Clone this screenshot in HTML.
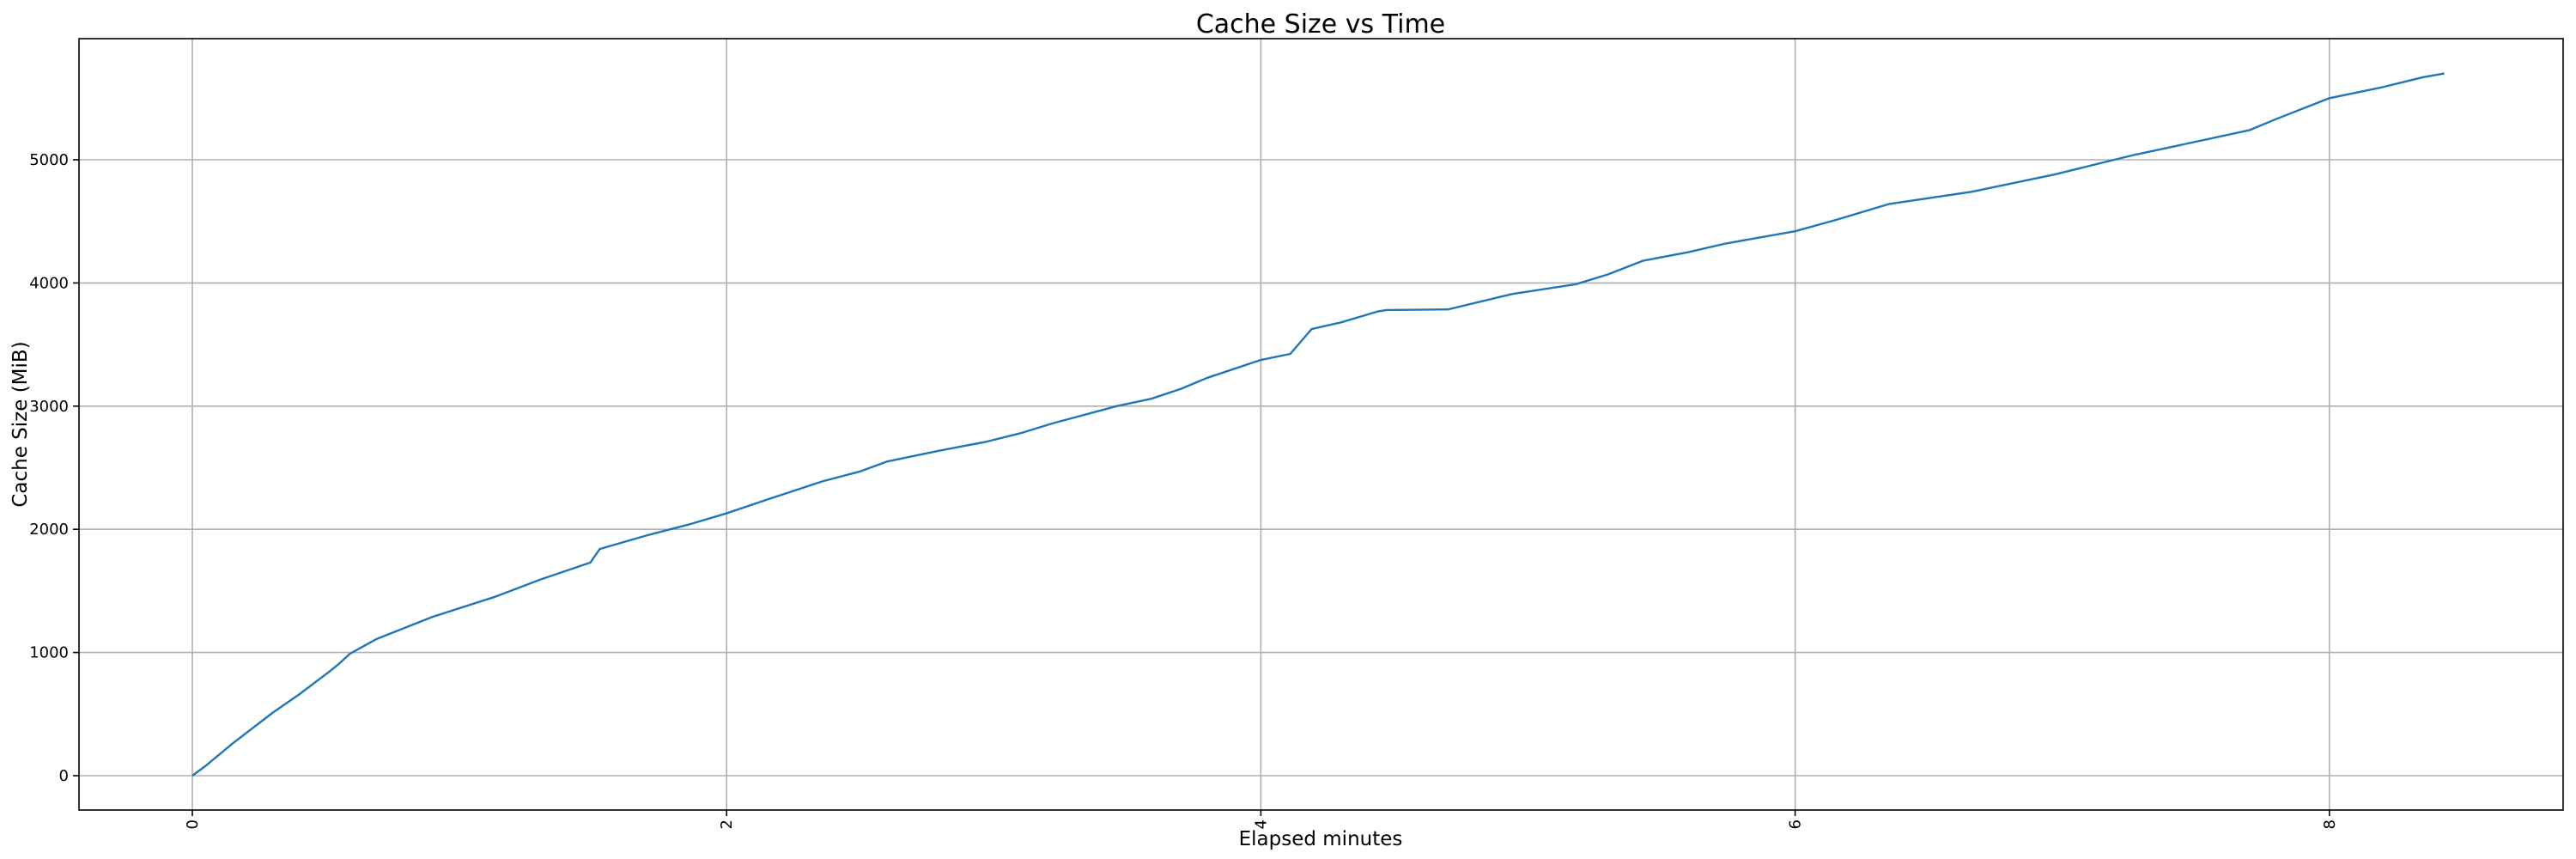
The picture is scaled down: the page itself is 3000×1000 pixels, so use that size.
<!DOCTYPE html>
<html><head><meta charset="utf-8"><style>
html,body{margin:0;padding:0;background:#fff;}
svg{display:block;font-family:"DejaVu Sans","Liberation Sans",sans-serif;}
</style></head><body>
<svg width="3000" height="1000" viewBox="0 0 3000 1000" xmlns="http://www.w3.org/2000/svg">
<rect width="3000" height="1000" fill="#fff"/>
<g stroke="#b0b0b0" stroke-width="1.6">
<line x1="224" y1="45" x2="224" y2="943"/>
<line x1="846.2" y1="45" x2="846.2" y2="943"/>
<line x1="1468.4" y1="45" x2="1468.4" y2="943"/>
<line x1="2090.6" y1="45" x2="2090.6" y2="943"/>
<line x1="2712.8" y1="45" x2="2712.8" y2="943"/>
<line x1="92" y1="903" x2="2985" y2="903"/>
<line x1="92" y1="759.6" x2="2985" y2="759.6"/>
<line x1="92" y1="616.2" x2="2985" y2="616.2"/>
<line x1="92" y1="472.8" x2="2985" y2="472.8"/>
<line x1="92" y1="329.4" x2="2985" y2="329.4"/>
<line x1="92" y1="186" x2="2985" y2="186"/>
</g>
<g transform="translate(224,903) scale(311.1,-0.1434)">
<polyline fill="none" stroke="#1f77b4" stroke-width="2.4" vector-effect="non-scaling-stroke" stroke-linejoin="round"
points="0,0 0.05,80 0.15,260 0.3,510 0.4,660 0.51,840 0.55,910 0.59,990 0.69,1110 0.9,1290 1.13,1450 1.3,1590 1.49,1730 1.525,1840 1.7,1950 1.86,2040 2.0,2130 2.15,2240 2.36,2390 2.5,2470 2.6,2550 2.8,2640 2.97,2710 3.1,2780 3.22,2860 3.46,3000 3.59,3060 3.7,3140 3.8,3230 4.0,3375 4.11,3424 4.19,3626 4.3,3680 4.44,3770 4.47,3780 4.70,3785 4.94,3910 5.18,3990 5.3,4070 5.43,4180 5.6,4250 5.74,4320 6.0,4420 6.15,4510 6.35,4640 6.66,4740 6.97,4880 7.27,5040 7.4,5100 7.7,5240 7.8,5330 8.0,5500 8.2,5590 8.35,5670 8.43,5700"/>
</g>
<rect x="92" y="45" width="2893" height="898" fill="none" stroke="#000" stroke-width="1.6"/>
<g stroke="#000" stroke-width="1.6">
<line x1="224" y1="943" x2="224" y2="950"/>
<line x1="846.2" y1="943" x2="846.2" y2="950"/>
<line x1="1468.4" y1="943" x2="1468.4" y2="950"/>
<line x1="2090.6" y1="943" x2="2090.6" y2="950"/>
<line x1="2712.8" y1="943" x2="2712.8" y2="950"/>
<line x1="85" y1="903" x2="92" y2="903"/>
<line x1="85" y1="759.6" x2="92" y2="759.6"/>
<line x1="85" y1="616.2" x2="92" y2="616.2"/>
<line x1="85" y1="472.8" x2="92" y2="472.8"/>
<line x1="85" y1="329.4" x2="92" y2="329.4"/>
<line x1="85" y1="186" x2="92" y2="186"/>
</g>
<g font-size="18" fill="#000" text-anchor="end">
<text x="80" y="909">0</text>
<text x="80" y="765.6">1000</text>
<text x="80" y="622.2">2000</text>
<text x="80" y="478.8">3000</text>
<text x="80" y="335.4">4000</text>
<text x="80" y="192">5000</text>
</g>
<g font-size="18" fill="#000" text-anchor="end">
<text transform="translate(230,954) rotate(-90)">0</text>
<text transform="translate(852.2,954) rotate(-90)">2</text>
<text transform="translate(1474.4,954) rotate(-90)">4</text>
<text transform="translate(2096.6,954) rotate(-90)">6</text>
<text transform="translate(2718.8,954) rotate(-90)">8</text>
</g>
<text x="1538" y="38" font-size="30" text-anchor="middle">Cache Size vs Time</text>
<text x="1538" y="984" font-size="23" text-anchor="middle">Elapsed minutes</text>
<text transform="translate(31,494) rotate(-90)" font-size="23" text-anchor="middle">Cache Size (MiB)</text>
</svg>
</body></html>
